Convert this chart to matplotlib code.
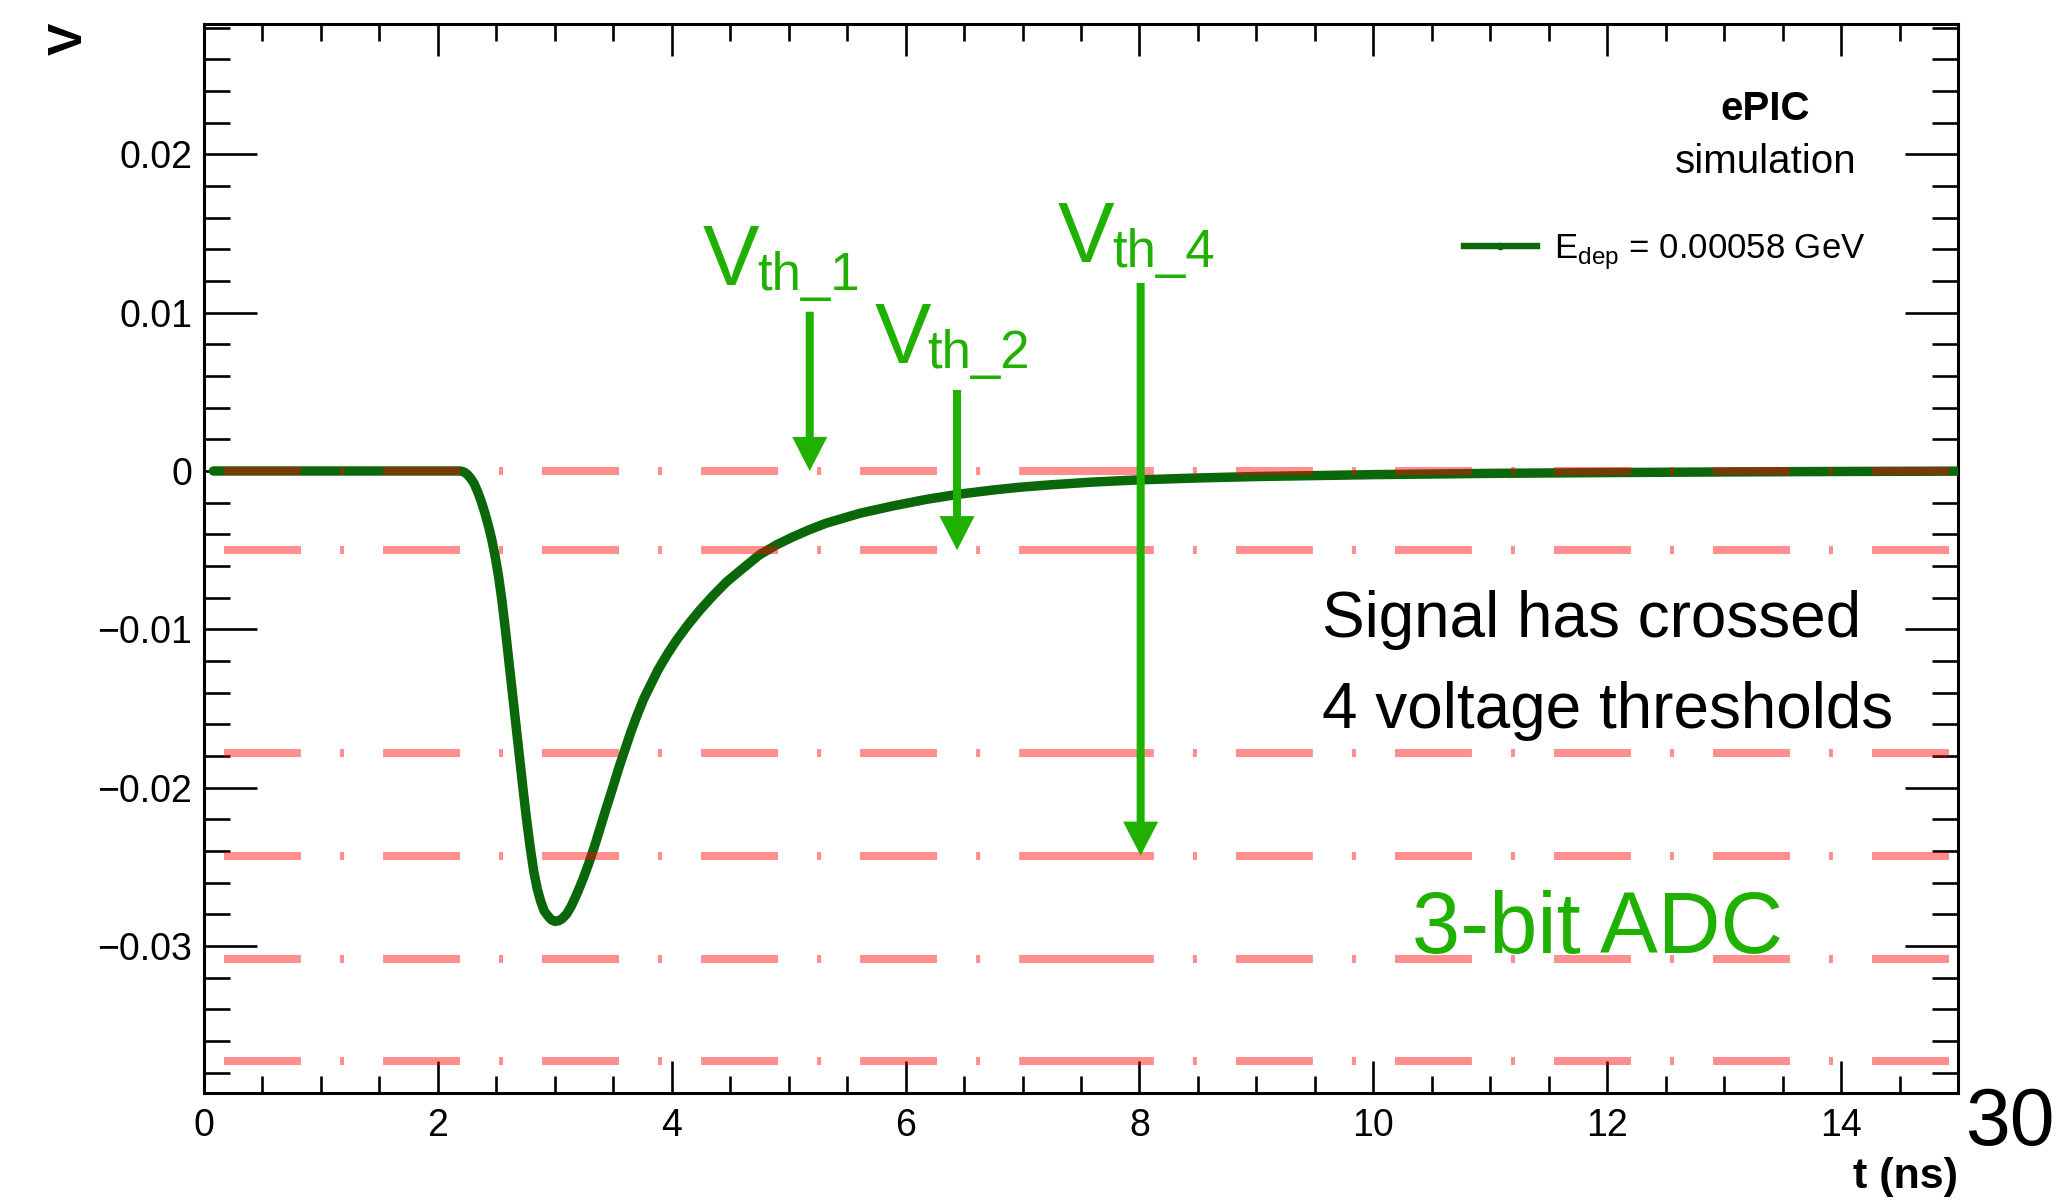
import matplotlib
matplotlib.use("Agg")
import matplotlib.pyplot as plt
from matplotlib.lines import Line2D
from matplotlib.patches import FancyArrow
from matplotlib.ticker import MultipleLocator

plt.rcParams["font.family"] = ["Liberation Sans", "DejaVu Sans"]
plt.rcParams["mathtext.fontset"] = "custom"
plt.rcParams["mathtext.rm"] = "Liberation Sans"
plt.rcParams["lines.scale_dashes"] = False

# ---- simulated pulse (time in ns, amplitude in V) ----
t_ns = [0.08, 0.5, 1.0, 1.5, 2.0, 2.19, 2.22, 2.25, 2.28, 2.31, 2.34, 2.37,
        2.40, 2.43, 2.46, 2.49, 2.52, 2.55, 2.58, 2.61, 2.64, 2.67, 2.70,
        2.73, 2.76, 2.79, 2.82, 2.85, 2.88, 2.91, 2.94, 2.97, 3.00, 3.03,
        3.06, 3.10, 3.14, 3.19, 3.24, 3.29, 3.34, 3.39, 3.44, 3.50, 3.55,
        3.60, 3.65, 3.70, 3.76, 3.82, 3.88, 3.96, 4.04, 4.14, 4.24, 4.35,
        4.47, 4.60, 4.75, 4.90, 5.04, 5.18, 5.32, 5.61, 5.89, 6.18, 6.46,
        6.75, 6.97, 7.23, 7.6, 8.0, 8.5, 9.0, 10.0, 11.0, 12.0, 13.0, 14.0,
        15.0]
signal_v = [0.0, 0.0, 0.0, 0.0, 0.0, 0.0, -0.00005, -0.0002, -0.00045,
            -0.0008, -0.0013, -0.0019, -0.0026, -0.0034, -0.0043, -0.0054,
            -0.0067, -0.0083, -0.0102, -0.0122, -0.0142, -0.0162, -0.0182,
            -0.0202, -0.0221, -0.0238, -0.0253, -0.0264, -0.0272, -0.0278,
            -0.0281, -0.02835, -0.02845, -0.02842, -0.0283, -0.0280, -0.0275,
            -0.0267, -0.0258, -0.0248, -0.0237, -0.0225, -0.0213, -0.0199,
            -0.0187, -0.0176, -0.0165, -0.0155, -0.0144, -0.0135, -0.0126,
            -0.0116, -0.0107, -0.0097, -0.0088, -0.0079, -0.0070, -0.0062,
            -0.0053, -0.00465, -0.00415, -0.0037, -0.0033, -0.00267,
            -0.00221, -0.00179, -0.00146, -0.0012, -0.00103, -0.00088,
            -0.0007, -0.00056, -0.00044, -0.00035, -0.00023, -0.00015,
            -0.0001, -0.00006, -0.00003, -0.00001]
legend_label = r"E$_{\mathrm{dep}}$ = 0.00058 GeV"

# ---- ADC comparator thresholds (V) ----
threshold_v = [0.0, -0.0050, -0.0178, -0.0243, -0.0308, -0.0373]
# each threshold is drawn in two pieces that meet inside a dash:
# the left one runs left->right, the right one runs right->left
left_piece = (0.175, 7.632)
right_piece = (14.92, 7.628)

# ---- threshold markers ----
marker_names = ["th_1", "th_2", "th_4"]
marker_t = [5.18, 6.44, 8.01]
marker_top_v = [0.01006, 0.00512, 0.01188]
marker_level = [0, 1, 3]
name_v_pos = [(4.268, 0.01175), (5.738, 0.00682), (7.303, 0.0132)]
name_sub_pos = [(4.729, 0.01143), (6.183, 0.00651), (7.765, 0.01289)]

# ---- axes ----
x_range = (0, 15)
y_range = (-0.039293, 0.028237)
x_ticks = [0, 2, 4, 6, 8, 10, 12, 14]
y_ticks = [-0.03, -0.02, -0.01, 0.0, 0.01, 0.02]
y_tick_labels = ["\u22120.03", "\u22120.02", "\u22120.01", "0", "0.01", "0.02"]

curve_green = "#0a680a"
note_green = "#20b000"

W, H = 2065, 1201
fig = plt.figure(figsize=(W / 100, H / 100), dpi=100)
ax = fig.add_axes([204 / W, 1 - 1093 / H, 1754 / W, 1069 / H])
ax.set_xlim(*x_range)
ax.set_ylim(*y_range)

# pulse
ax.plot(t_ns, signal_v, color=curve_green, lw=6.8, solid_capstyle="round",
        solid_joinstyle="round", zorder=3)

# thresholds: long dash / dot pattern, translucent red over the pulse
dash_pattern = (55.4, 28.1, 2.9, 28.1)
for v in threshold_v:
    for piece in (left_piece, right_piece):
        ax.plot(piece, [v, v], color="red", alpha=0.44, lw=5.8,
                dashes=dash_pattern, dash_capstyle="butt", zorder=4)

# arrows + labels
for name, t, top, lvl, vpos, spos in zip(marker_names, marker_t, marker_top_v,
                                         marker_level, name_v_pos, name_sub_pos):
    tip = threshold_v[lvl]
    ax.add_patch(FancyArrow(t, top, 0, tip - top, width=0.0684,
                            head_width=0.30, head_length=0.00215,
                            length_includes_head=True, color=note_green,
                            lw=0, zorder=5))
    ax.text(vpos[0], vpos[1], "V", color=note_green, fontsize=61,
            ha="left", va="baseline", zorder=6)
    ax.text(spos[0], spos[1], name, color=note_green, fontsize=38,
            ha="left", va="baseline", zorder=6)

ax.text(9.561, -0.01049, "Signal has crossed", fontsize=46, color="black",
        ha="left", va="baseline")
ax.text(9.561, -0.01623, "4 voltage thresholds", fontsize=46, color="black",
        ha="left", va="baseline")
ax.text(10.331, -0.03045, "3-bit ADC", fontsize=62.5, color=note_green,
        ha="left", va="baseline", zorder=6)

# ticks (inside, on all four sides)
ax.set_xticks(x_ticks)
ax.set_xticklabels([str(x) for x in x_ticks])
ax.set_yticks(y_ticks, y_tick_labels)
ax.xaxis.set_minor_locator(MultipleLocator(0.5))
ax.yaxis.set_minor_locator(MultipleLocator(0.002))
ax.tick_params(which="both", direction="in", top=True, right=True,
               width=1.9, colors="black", labelsize=27)
ax.tick_params(axis="x", which="major", length=23, pad=11)
ax.tick_params(axis="x", which="minor", length=12)
ax.tick_params(axis="y", which="major", length=38, pad=8.6)
ax.tick_params(axis="y", which="minor", length=19)
for sp in ax.spines.values():
    sp.set_linewidth(2.2)

# axis titles
ax.set_ylabel("V", fontsize=35, fontweight="bold", rotation=90)
ax.yaxis.set_label_coords((82 - 204) / 1754, (1093 - 23) / 1069)
ax.yaxis.label.set_rotation_mode("anchor")
ax.yaxis.label.set_ha("right")
ax.yaxis.label.set_va("baseline")

ax.set_xlabel("t (ns)", fontsize=31, fontweight="bold")
ax.xaxis.set_label_coords(1.0, (1093 - 1188) / 1069)
ax.xaxis.label.set_ha("right")
ax.xaxis.label.set_va("baseline")

# legend
handle = Line2D([], [], color=curve_green, lw=4.6, marker="o", markersize=4.5)
ax.legend([handle], [legend_label], loc="center left",
          bbox_to_anchor=(1464 / W, 1 - 252 / H),
          bbox_transform=fig.transFigure, frameon=False, fontsize=25,
          handlelength=2.1, handletextpad=0.5, borderpad=0, borderaxespad=0,
          numpoints=1)

# experiment tag
fig.text(1765 / W, 1 - 120 / H, "ePIC", fontsize=29, fontweight="bold",
         ha="center", va="baseline")
fig.text(1766 / W, 1 - 173 / H, "simulation", fontsize=29,
         ha="center", va="baseline")

# page number
fig.text(1966 / W, 1 - 1145 / H, "30", fontsize=58, ha="left", va="baseline")

fig.savefig("out.png", dpi=100)
